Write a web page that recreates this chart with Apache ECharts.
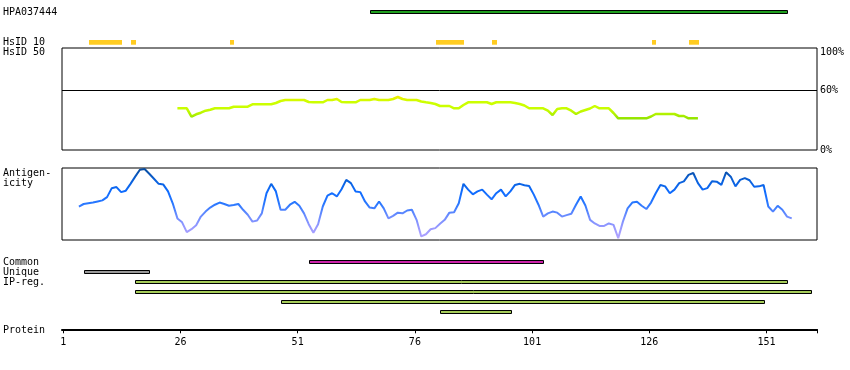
<!DOCTYPE html>
<html><head><meta charset="utf-8">
<script src="https://cdn.jsdelivr.net/npm/echarts@6/dist/echarts.min.js"></script>
<style>html,body{margin:0;padding:0;background:#fff}#c{width:850px;height:370px}</style>
</head><body><div id="c"></div>
<script>
// ---------------- data ----------------
const proteinLength = 161;
const tickResidues = [1, 26, 51, 76, 101, 126, 151];
const hpaName = 'HPA037444';
const hpaBars = [[67, 155]];
const hsid10Segments = [[7, 13], [16, 16], [37, 37], [81, 86], [93, 93], [127, 127], [135, 136]];
const commonBars = [[54, 103]];
const uniqueBars = [[6, 19]];
const ipRegBars = [[17, 155], [17, 160], [48, 150], [82, 96]];
const hsid50Ticks = [0, 60, 100];
const hsid50Start = 25;
const hsid50Values = [
  41.7, 41.7, 41.7, 33.3, 35.7, 37.3, 39.3, 40.3, 41.7, 41.7, 41.7, 41.7, 43.3, 43.3, 43.3, 43.3,
  45.7, 45.7, 45.7, 45.7, 45.7, 47, 49, 50, 50, 50, 50, 50, 48, 47.7, 47.7, 47.7,
  50, 50, 51, 48, 47.7, 47.7, 47.7, 50, 50, 50, 51, 50, 50, 50, 51, 53,
  51, 50, 50, 50, 48.5, 47.7, 47, 46, 44, 44, 44, 41.7, 41.7, 45, 47.7, 47.7,
  47.7, 47.7, 47.7, 46, 47.7, 47.7, 47.7, 47.7, 47, 46, 44.5, 41.7, 41.7, 41.7, 41.7, 39.3,
  35, 41, 41.7, 41.7, 39.3, 36, 38.5, 40, 41.5, 44, 41.7, 41.7, 41.7, 37, 31.7, 31.7,
  31.7, 31.7, 31.7, 31.7, 31.7, 33.5, 36, 36, 36, 36, 36, 34, 34, 31.7, 31.7, 31.7
];
const antigenStart = 4;
const antigenValues = [
  46.5, 50, 51, 52, 53.5, 55, 59.5, 72, 73.5, 66.5, 68.5, 78, 88, 97.5, 98.5, 92,
  85, 78, 77, 67.5, 51, 30, 24.5, 11, 15, 20.5, 32.5, 39.5, 45, 49, 52, 50,
  47.5, 48.5, 50, 42, 35, 25.5, 27, 37, 65, 78, 67.5, 42, 42, 49, 53, 47.5,
  37, 22, 10, 22, 46.5, 61.5, 65, 60.5, 70.5, 83.5, 79, 67.5, 66.5, 53.5, 45, 44,
  53.5, 44, 30, 33.5, 38, 37, 41, 42, 28, 5, 8, 15, 16.5, 22.5, 28, 38,
  38.5, 51, 78, 70, 63.5, 67.5, 70, 63, 56.5, 65, 70, 60.5, 67.5, 76.5, 78, 76,
  75, 63, 49, 32.5, 37, 39.5, 38, 32.5, 34.5, 36.5, 49, 60.5, 48, 28, 23, 19.5,
  19.5, 23, 21, 2.5, 25.5, 44, 52, 53, 47.5, 43, 52, 65, 76.5, 74.5, 65, 70,
  79, 81.5, 90.5, 93, 79, 70, 72, 81.5, 81, 76.5, 94, 88, 74.5, 83.5, 86, 83,
  74, 74.5, 76.5, 46.5, 39.5, 47.5, 42, 32.5, 30
];
const leftLabels = ['HPA037444', 'HsID 10', 'HsID 50', 'Antigen-', 'icity', 'Common', 'Unique', 'IP-reg.', 'Protein'];

// ---------------- layout ----------------
const FONT = '"DejaVu Sans Mono", "Liberation Mono", monospace';
const labelY = [12.6, 42.8, 52.6, 173.4, 183.4, 262.8, 272.8, 282.8, 330];
const gridLeft = 62, gridWidth = 755;
const xMin = 0.75, xMax = proteinLength + 0.75;
const centreOffset = 0.36;

const grids = [
  { top: 7.3, height: 10 },    // 0 HPA
  { top: 37.3, height: 10 },   // 1 HsID 10
  { top: 48, height: 102, show: true, borderColor: '#000', borderWidth: 1 },   // 2 HsID 50
  { top: 168, height: 72, show: true, borderColor: '#000', borderWidth: 1 },   // 3 antigenicity
  { top: 257.3, height: 60 },  // 4 bars
  { top: 300, height: 29.3 }   // 5 protein axis
].map(g => Object.assign({ left: gridLeft, width: gridWidth, containLabel: false }, g));

const xAxes = grids.map((g, i) => ({
  type: 'value', gridIndex: i, min: xMin, max: xMax, show: i === 5,
  splitLine: { show: false },
  axisLine: { show: true, onZero: false, lineStyle: { color: '#000', width: 2 } },
  axisTick: { show: true, customValues: tickResidues.concat([xMax]), length: 4, lineStyle: { color: '#000', width: 1 } },
  axisLabel: { show: true, customValues: tickResidues, margin: 8, color: '#000', fontFamily: FONT, fontSize: 10, formatter: v => String(v) }
}));

const rowNames = ['Common', 'Unique', 'IP1', 'IP2', 'IP3', 'IP4'];
const yAxes = [
  { type: 'category', gridIndex: 0, data: [hpaName], show: false },
  { type: 'category', gridIndex: 1, data: ['HsID 10'], show: false },
  { type: 'value', gridIndex: 2, min: 0, max: 102, position: 'right',
    axisLine: { show: false }, axisTick: { show: false }, splitLine: { show: false },
    axisLabel: { customValues: hsid50Ticks, margin: 3, color: '#000', fontFamily: FONT, fontSize: 10,
      formatter: v => v === 100 ? '{t|' + v + '%}' : v + '%',
      rich: { t: { padding: [5, 0, 0, 0], fontFamily: FONT, fontSize: 10, color: '#000' } } } },
  { type: 'value', gridIndex: 3, min: 0, max: 100, show: false, splitLine: { show: false } },
  { type: 'category', gridIndex: 4, data: rowNames, inverse: true, show: false },
  { type: 'value', gridIndex: 5, show: false, splitLine: { show: false } }
];

function barRenderer(fill, stroke) {
  return function (params, api) {
    const row = api.value(2);
    const a = api.coord([api.value(0) - 0.5, row]);
    const b = api.coord([api.value(1) + 0.5, row]);
    const cy = Math.round(a[1]);
    if (stroke) {
      const x0 = Math.floor(a[0]) + 0.5, x1 = Math.floor(b[0]) + 0.5;
      return { type: 'rect', shape: { x: x0, y: cy - 1.5, width: x1 - x0, height: 3 },
        style: { fill: fill, stroke: stroke, lineWidth: 1 } };
    }
    const x0 = Math.round(a[0]), x1 = Math.round(b[0]);
    return { type: 'rect', shape: { x: x0, y: cy - 2, width: Math.max(1, x1 - x0), height: 4.7 },
      style: { fill: fill } };
  };
}
function barSeries(list, rowIndex, axisIdx, fill, stroke) {
  return {
    type: 'custom', xAxisIndex: axisIdx, yAxisIndex: axisIdx, silent: true,
    renderItem: barRenderer(fill, stroke),
    encode: { x: [0, 1], y: 2 },
    data: list.map((b, i) => [b[0], b[1], typeof rowIndex === 'function' ? rowIndex(i) : rowIndex])
  };
}

const hsid50Data = hsid50Values.map((v, i) => [hsid50Start + i + centreOffset, v]);
const antigenData = antigenValues.map((v, i) => [antigenStart + i + centreOffset, v]);

const series = [
  barSeries(hpaBars, 0, 0, '#1e9e1e', '#000'),
  barSeries(hsid10Segments, 0, 1, '#ffcc22', null),
  {
    type: 'line', xAxisIndex: 2, yAxisIndex: 2, data: hsid50Data, symbol: 'none', silent: true,
    lineStyle: { width: 2.5 },
    markLine: { silent: true, symbol: 'none', label: { show: false },
      lineStyle: { color: '#000', width: 1, type: 'solid' }, data: [{ yAxis: 60 }] }
  },
  {
    type: 'line', xAxisIndex: 3, yAxisIndex: 3, data: antigenData, symbol: 'none', silent: true,
    lineStyle: { width: 2 }
  },
  barSeries(commonBars, 0, 4, '#cc22aa', '#000'),
  barSeries(uniqueBars, 1, 4, '#999999', '#000'),
  barSeries(ipRegBars, i => 2 + i, 4, '#a6cc5a', '#000')
];

const graphic = leftLabels.map((t, i) => ({
  type: 'text', x: 3, y: labelY[i], silent: true,
  style: { text: t, font: '10px ' + FONT, fill: '#000', verticalAlign: 'middle', textVerticalAlign: 'middle' }
}));

const chart = echarts.init(document.getElementById('c'), null, { renderer: 'canvas' });
chart.setOption({
  animation: false,
  backgroundColor: '#fff',
  grid: grids,
  xAxis: xAxes,
  yAxis: yAxes,
  visualMap: [
    { type: 'continuous', show: false, seriesIndex: 2, dimension: 1, min: 30, max: 53,
      inRange: { color: ['#88e000', '#aaee00', '#c4fa00', '#ccff00', '#ccff00', '#eeee00'] } },
    { type: 'continuous', show: false, seriesIndex: 3, dimension: 1, min: 0, max: 100,
      inRange: { color: ['#b4a4ff', '#9a9aff', '#6c8cff', '#2a78ff', '#0f6cff', '#0a60d8', '#0a4a98'] } }
  ],
  graphic: graphic,
  series: series
});
</script></body></html>
